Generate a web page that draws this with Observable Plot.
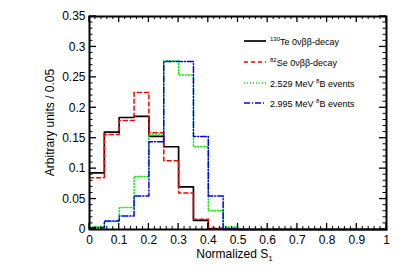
<!DOCTYPE html>
<html>
<head>
<meta charset="utf-8">
<script src="https://cdn.jsdelivr.net/npm/d3@7"></script>
<script src="https://cdn.jsdelivr.net/npm/@observablehq/plot@0.6"></script>
<style>
html,body{margin:0;padding:0;background:#fff;}
#chart{position:relative;width:407px;height:277px;}
svg{font-family:"Liberation Sans",Arial,sans-serif;}
</style>
</head>
<body>
<div id="chart"></div>
<script>
// bin lower edges (width 0.05)
const binEdges = d3.range(20).map(i => +(i * 0.05).toFixed(2));
const te130 = [0.093, 0.160, 0.184, 0.186, 0.153, 0.136, 0.070, 0.015, 0.001, 0, 0, 0, 0, 0, 0, 0, 0, 0, 0, 0];
const se82  = [0.085, 0.156, 0.179, 0.225, 0.159, 0.113, 0.060, 0.017, 0.002, 0.002, 0, 0, 0, 0, 0, 0, 0, 0, 0, 0];
const b2529 = [0.004, 0.013, 0.036, 0.087, 0.157, 0.277, 0.254, 0.136, 0.031, 0.004, 0, 0, 0, 0, 0, 0, 0, 0, 0, 0];
const b2995 = [0.003, 0.014, 0.022, 0.055, 0.144, 0.276, 0.276, 0.153, 0.055, 0.001, 0, 0, 0, 0, 0, 0, 0, 0, 0, 0];

const xTickValues = [0, 0.1, 0.2, 0.3, 0.4, 0.5, 0.6, 0.7, 0.8, 0.9, 1];
const xTickLabels = ["0", "0.1", "0.2", "0.3", "0.4", "0.5", "0.6", "0.7", "0.8", "0.9", "1"];
const yTickValues = [0, 0.05, 0.1, 0.15, 0.2, 0.25, 0.3, 0.35];
const yTickLabels = ["0", "0.05", "0.1", "0.15", "0.2", "0.25", "0.3", "0.35"];
const xMinor = d3.range(51).map(i => +(i * 0.02).toFixed(2));
const yMinor = d3.range(36).map(i => +(i * 0.01).toFixed(2));

const series = [
  {name: "te", sup: "130", label: "Te 0\u03bd\u03b2\u03b2-decay", values: te130, color: "#000000", dash: null, width: 1.7},
  {name: "se", sup: "82", label: "Se 0\u03bd\u03b2\u03b2-decay", values: se82, color: "#ff0000", dash: "4,3", width: 1.5},
  {name: "b1", pre: "2.529 MeV ", sup: "8", label: "B events", values: b2529, color: "#00ee00", dash: "1,2", width: 1.5},
  {name: "b2", pre: "2.995 MeV ", sup: "8", label: "B events", values: b2995, color: "#0000ff", dash: "6,2,1,2", width: 1.5}
];

function stepData(values) {
  const pts = binEdges.map((x, i) => ({x, y: values[i]}));
  pts.push({x: 1, y: values[values.length - 1]});
  return pts;
}

const plot = Plot.plot({
  width: 407,
  height: 277,
  marginLeft: 89,
  marginRight: 21,
  marginTop: 16,
  marginBottom: 48,
  style: {fontFamily: "Liberation Sans, Arial, sans-serif", fontSize: "12px", background: "white"},
  x: {domain: [0, 1], label: null},
  y: {domain: [0, 0.35], label: null},
  marks: [
    ...series.map(s => Plot.line(stepData(s.values), {
      x: "x", y: "y", curve: "step-after", stroke: s.color,
      strokeWidth: s.width, strokeDasharray: s.dash
    })),
    Plot.axisX({anchor: "bottom", ticks: xTickValues, tickSize: 0, tickPadding: 6,
      tickFormat: (d, i) => xTickLabels[i], fontSize: 12, label: null}),
    Plot.axisY({anchor: "left", ticks: yTickValues, tickSize: 0, tickPadding: 4,
      tickFormat: (d, i) => yTickLabels[i], fontSize: 12, label: null}),
    Plot.frame({stroke: "black", strokeWidth: 2})
  ]
});

document.getElementById("chart").appendChild(plot);

const svg = d3.select(plot);
const xs = plot.scale("x"), ys = plot.scale("y");
const [x0, x1] = xs.range;
const [yb, yt] = ys.range;

// inward ticks on all four sides
const tg = svg.append("g").attr("stroke", "black");
const isMajorX = v => xTickValues.some(t => Math.abs(t - v) < 1e-9);
const isMajorY = v => yTickValues.some(t => Math.abs(t - v) < 1e-9);
xMinor.forEach(v => {
  const L = isMajorX(v) ? 6 : 3, px = xs.apply(v), w = isMajorX(v) ? 1.3 : 1;
  tg.append("line").attr("x1", px).attr("x2", px).attr("y1", yb).attr("y2", yb - L).attr("stroke-width", w);
  tg.append("line").attr("x1", px).attr("x2", px).attr("y1", yt).attr("y2", yt + L).attr("stroke-width", w);
});
yMinor.forEach(v => {
  const L = isMajorY(v) ? 7 : 3.5, py = ys.apply(v), w = isMajorY(v) ? 1.3 : 1;
  tg.append("line").attr("y1", py).attr("y2", py).attr("x1", x0).attr("x2", x0 + L).attr("stroke-width", w);
  tg.append("line").attr("y1", py).attr("y2", py).attr("x1", x1).attr("x2", x1 - L).attr("stroke-width", w);
});

// axis titles
const xt = svg.append("text")
  .attr("x", (x0 + x1) / 2 - 3).attr("y", yb + 29)
  .attr("text-anchor", "middle").attr("font-size", 12).attr("fill", "black");
xt.append("tspan").text("Normalized S");
xt.append("tspan").attr("font-size", 8).attr("dy", 3).text("1");

svg.append("text")
  .attr("transform", `translate(${x0 - 35},${(yb + yt) / 2}) rotate(-90)`)
  .attr("text-anchor", "middle").attr("font-size", 12).attr("fill", "black")
  .text("Arbitrary units / 0.05");

// legend
const leg = svg.append("g").attr("font-size", 9).attr("fill", "black").attr("text-anchor", "start");
const rowY = [41, 62, 83, 103];
series.forEach((s, i) => {
  const y = rowY[i];
  leg.append("line").attr("x1", 244).attr("x2", 266).attr("y1", y).attr("y2", y)
    .attr("stroke", s.color).attr("stroke-width", s.width)
    .attr("stroke-dasharray", s.dash);
  const t = leg.append("text").attr("x", 270).attr("y", y + 3.5).attr("text-anchor", "start");
  if (s.pre) t.append("tspan").text(s.pre);
  t.append("tspan").attr("font-size", 6).attr("dy", -4).text(s.sup);
  t.append("tspan").attr("dy", 4).text(s.label);
});
</script>
</body>
</html>
